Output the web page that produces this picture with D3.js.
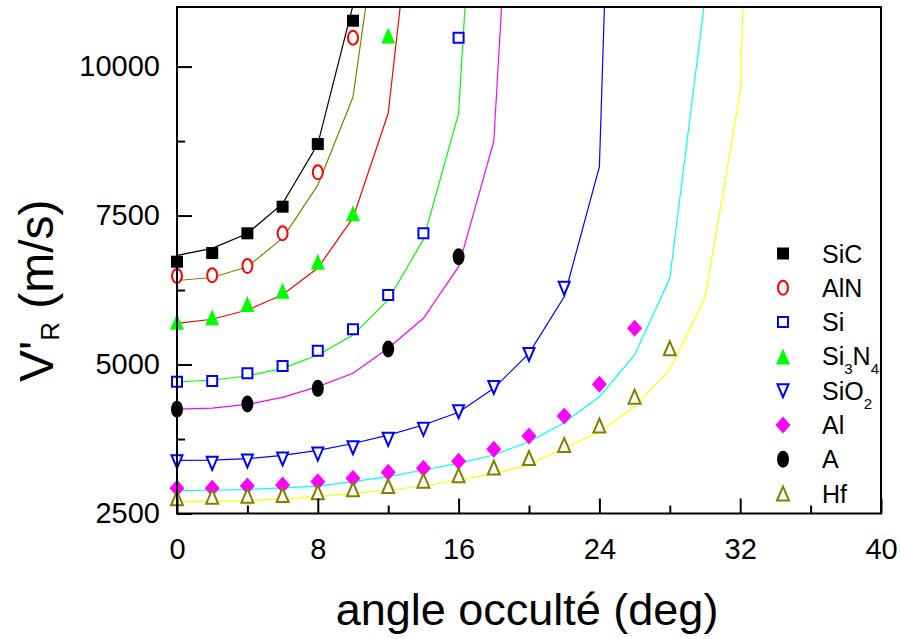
<!DOCTYPE html>
<html>
<head>
<meta charset="utf-8">
<script src="https://cdn.jsdelivr.net/npm/d3@7"></script>
<style>
  html, body { margin: 0; padding: 0; background: #fff; }
  svg { display: block; }
  text { font-family: "Liberation Sans", Arial, Helvetica, sans-serif; fill: #000; }
</style>
</head>
<body>
<svg id="chart" width="901" height="639"></svg>
<script>
// ---------- data ----------
const xMajorTicks = [0, 8, 16, 24, 32, 40];
const xMinorTicks = [4, 12, 20, 28, 36];
const yMajorTicks = [2500, 5000, 7500, 10000];
const yMinorTicks = [3750, 6250, 8750];

// measured points (angle in deg, V'R in m/s)
const anglesSiC   = [0, 2, 4, 6, 8, 10];
const valuesSiC   = [6726, 6871, 7202, 7649, 8700, 10770];
const anglesAlN   = [0, 2, 4, 6, 8, 10];
const valuesAlN   = [6486, 6497, 6653, 7202, 8226, 10485];
const anglesSi    = [0, 2, 4, 6, 8, 10, 12, 14, 16];
const valuesSi    = [4712, 4724, 4853, 4975, 5232, 5591, 6167, 7202, 10485];
const anglesSi3N4 = [0, 2, 4, 6, 8, 10, 12];
const valuesSi3N4 = [5719, 5793, 6016, 6239, 6726, 7538, 10520];
const anglesSiO2  = [0, 2, 4, 6, 8, 10, 12, 14, 16, 18, 20, 22];
const valuesSiO2  = [3369, 3342, 3381, 3415, 3498, 3605, 3745, 3913, 4209, 4615, 5170, 6279];
const anglesAl    = [0, 2, 4, 6, 8, 10, 12, 14, 16, 18, 20, 22, 24, 26];
const valuesAl    = [2923, 2923, 2961, 2978, 3034, 3091, 3191, 3259, 3375, 3577, 3800, 4136, 4668, 5608];
const anglesA     = [0, 4, 8, 12, 16];
const valuesA     = [4249, 4338, 4600, 5260, 6810];
const anglesHf    = [0, 2, 4, 6, 8, 10, 12, 14, 16, 18, 20, 22, 24, 26, 28];
const valuesHf    = [2755, 2782, 2799, 2810, 2855, 2906, 2961, 3050, 3140, 3270, 3430, 3650, 3975, 4460, 5272];

// theoretical curves (polylines, clipped at the top of the frame)
const curveAnglesSiC   = [0, 2, 4, 6, 8, 10, 12];
const curveValuesSiC   = [6830, 6950, 7200, 7700, 8700, 11030, 20000];
const curveAnglesAlN   = [0, 2, 4, 6, 8, 10, 12];
const curveValuesAlN   = [6410, 6460, 6640, 7120, 8010, 9490, 13680];
const curveAnglesSi3N4 = [0, 2, 4, 6, 8, 10, 12, 14];
const curveValuesSi3N4 = [5690, 5760, 5915, 6170, 6620, 7460, 9216, 14460];
const curveAnglesSi    = [0, 2, 4, 6, 8, 10, 12, 14, 16, 18];
const curveValuesSi    = [4707, 4740, 4807, 4936, 5160, 5495, 6083, 7100, 9216, 19000];
const curveAnglesA     = [0, 2, 4, 6, 8, 10, 12, 14, 16, 18, 20];
const curveValuesA     = [4250, 4270, 4330, 4450, 4630, 4853, 5272, 5776, 6642, 8750, 18950];
const curveAnglesSiO2  = [0, 2, 4, 6, 8, 10, 12, 14, 16, 18, 20, 22, 24, 26];
const curveValuesSiO2  = [3390, 3395, 3420, 3475, 3560, 3675, 3815, 3985, 4200, 4600, 5188, 6138, 8320, 27100];
const curveAnglesAl    = [0, 2, 4, 6, 8, 10, 12, 14, 16, 18, 20, 22, 24, 26, 28, 30, 32];
const curveValuesAl    = [2883, 2890, 2905, 2930, 2961, 3034, 3118, 3230, 3342, 3482, 3705, 4024, 4460, 5160, 6447, 11150, 40000];
const curveAnglesHf    = [0, 2, 4, 6, 8, 10, 12, 14, 16, 18, 20, 22, 24, 26, 28, 30, 32, 34];
const curveValuesHf    = [2698, 2705, 2715, 2740, 2782, 2839, 2894, 2961, 3062, 3170, 3320, 3594, 3873, 4290, 4920, 6111, 9578, 27500];

const legendLabels = ["SiC", "AlN", "Si", "Si3N4", "SiO2", "Al", "A", "Hf"];

// ---------- build tables ----------
const zip = (a, v) => a.map((d, i) => ({ x: d, y: v[i] }));
const series = [
  { name: "SiC",   sym: "square",   fill: "#000000", stroke: "none",    pts: zip(anglesSiC, valuesSiC) },
  { name: "AlN",   sym: "ellipse",  fill: "#ffffff", stroke: "#ff0000", pts: zip(anglesAlN, valuesAlN) },
  { name: "Si",    sym: "square",   fill: "#ffffff", stroke: "#0000ff", pts: zip(anglesSi, valuesSi) },
  { name: "Si3N4", sym: "triUp",    fill: "#00ff00", stroke: "none",    pts: zip(anglesSi3N4, valuesSi3N4) },
  { name: "SiO2",  sym: "triDown",  fill: "#ffffff", stroke: "#0000ff", pts: zip(anglesSiO2, valuesSiO2) },
  { name: "Al",    sym: "diamond",  fill: "#ff00ff", stroke: "none",    pts: zip(anglesAl, valuesAl) },
  { name: "A",     sym: "ellipse",  fill: "#000000", stroke: "none",    pts: zip(anglesA, valuesA) },
  { name: "Hf",    sym: "triUp",    fill: "#ffffff", stroke: "#808000", pts: zip(anglesHf, valuesHf) }
];
const curves = [
  { color: "#000000", pts: zip(curveAnglesSiC, curveValuesSiC) },
  { color: "#808000", pts: zip(curveAnglesAlN, curveValuesAlN) },
  { color: "#ff0000", pts: zip(curveAnglesSi3N4, curveValuesSi3N4) },
  { color: "#00ff00", pts: zip(curveAnglesSi, curveValuesSi) },
  { color: "#ff00ff", pts: zip(curveAnglesA, curveValuesA) },
  { color: "#0000ff", pts: zip(curveAnglesSiO2, curveValuesSiO2) },
  { color: "#00ffff", pts: zip(curveAnglesAl, curveValuesAl) },
  { color: "#ffff00", pts: zip(curveAnglesHf, curveValuesHf) }
];

// ---------- layout ----------
const L = 177, R = 881, T = 7, B = 513.5;
const x = d3.scaleLinear().domain([0, 40]).range([L, R]);
const y = d3.scaleLinear().domain([2500, 11000]).range([B, T]);

const svg = d3.select("#chart");

svg.append("defs").append("clipPath").attr("id", "plotclip")
  .append("rect").attr("x", L).attr("y", T).attr("width", R - L).attr("height", B - T);

// curves
const line = d3.line().x(d => x(d.x)).y(d => y(d.y));
svg.append("g").attr("clip-path", "url(#plotclip)")
  .selectAll("path").data(curves).join("path")
  .attr("d", d => line(d.pts))
  .attr("fill", "none")
  .attr("stroke", d => d.color)
  .attr("stroke-width", 1.2);

// symbol shapes
function symbolPath(sym, open) {
  const p = d3.path();
  if (sym === "square") {
    const h = open ? 5 : 6;
    p.rect(-h, -h, 2 * h, 2 * h);
  } else if (sym === "ellipse") {
    const rx = open ? 5 : 6, ry = open ? 7 : 8.5;
    p.moveTo(rx, 0);
    p.ellipse ? p.ellipse(0, 0, rx, ry, 0, 0, 2 * Math.PI) : null;
    return `M${rx},0 A${rx},${ry} 0 1,1 ${-rx},0 A${rx},${ry} 0 1,1 ${rx},0 Z`;
  } else if (sym === "triUp") {
    const w = open ? 6 : 7, h = open ? 7 : 8;
    p.moveTo(0, -h); p.lineTo(w, h); p.lineTo(-w, h); p.closePath();
  } else if (sym === "triDown") {
    const w = 5.5, h = 6.5;
    p.moveTo(-w, -h); p.lineTo(w, -h); p.lineTo(0, h); p.closePath();
  } else if (sym === "diamond") {
    const w = 7.5, h = 8.5;
    p.moveTo(0, -h); p.lineTo(w, 0); p.lineTo(0, h); p.lineTo(-w, 0); p.closePath();
  }
  return p.toString();
}

// markers
const mg = svg.append("g");
series.forEach(s => {
  const open = s.stroke !== "none";
  mg.append("g").selectAll("path").data(s.pts).join("path")
    .attr("transform", d => `translate(${x(d.x)},${y(d.y)})`)
    .attr("d", symbolPath(s.sym, open))
    .attr("fill", s.fill)
    .attr("stroke", s.stroke)
    .attr("stroke-width", open ? 2 : 0);
});

// axes
const fontTick = 29;
const xAxisMajor = d3.axisBottom(x).tickValues(xMajorTicks).tickSize(-15).tickPadding(25).tickFormat(d3.format("d"));
const xAxisMinor = d3.axisBottom(x).tickValues(xMinorTicks).tickSize(-8).tickFormat("");
const yAxisMajor = d3.axisLeft(y).tickValues(yMajorTicks).tickSize(-15).tickPadding(17).tickFormat(d3.format("d"));
const yAxisMinor = d3.axisLeft(y).tickValues(yMinorTicks).tickSize(-8).tickFormat("");

function styleAxis(g) {
  g.select(".domain").remove();
  g.selectAll(".tick line").attr("stroke", "#000").attr("stroke-width", 2);
  g.selectAll(".tick text").attr("font-size", fontTick)
    .attr("font-family", "'Liberation Sans', Arial, sans-serif").attr("fill", "#000");
}
svg.append("g").attr("transform", `translate(0,${B})`).call(xAxisMajor).call(styleAxis);
svg.append("g").attr("transform", `translate(0,${B})`).call(xAxisMinor).call(styleAxis);
svg.append("g").attr("transform", `translate(${L},0)`).call(yAxisMajor).call(styleAxis);
svg.append("g").attr("transform", `translate(${L},0)`).call(yAxisMinor).call(styleAxis);

// frame
svg.append("rect").attr("x", L).attr("y", T).attr("width", R - L).attr("height", B - T)
  .attr("fill", "none").attr("stroke", "#000").attr("stroke-width", 2);

// legend
const lg = svg.append("g");
const legX = 783, legTextX = 822, legY0 = 253.5, legDy = 34.3;
series.forEach((s, i) => {
  const yy = legY0 + i * legDy;
  const open = s.stroke !== "none";
  lg.append("path")
    .attr("transform", `translate(${legX},${yy})`)
    .attr("d", symbolPath(s.sym, open))
    .attr("fill", s.fill).attr("stroke", s.stroke).attr("stroke-width", open ? 2 : 0);
  const t = lg.append("text").attr("x", legTextX).attr("y", yy + 9).attr("font-size", 25);
  const label = legendLabels[i];
  // split digits as subscripts
  const parts = label.match(/[A-Za-z]+|\d+/g);
  parts.forEach(part => {
    if (/\d/.test(part)) {
      t.append("tspan").attr("font-size", 15).attr("dy", 9).text(part);
    } else {
      const ts = t.append("tspan").text(part);
      if (t.selectAll("tspan").size() > 1 && /\d/.test(t.selectAll("tspan").nodes().slice(-2)[0].textContent)) ts.attr("dy", -9);
    }
  });
});

// axis titles
svg.append("text").attr("x", 527).attr("y", 625).attr("text-anchor", "middle")
  .attr("font-size", 45).text("angle occulté (deg)");

const yt = svg.append("text").attr("transform", "translate(53,382) rotate(-90)").attr("font-size", 48);
yt.append("tspan").text("V'");
yt.append("tspan").attr("font-size", 26).attr("dy", 6).text("R");
yt.append("tspan").attr("dy", -6).text(" (m/s)");
</script>
</body>
</html>
